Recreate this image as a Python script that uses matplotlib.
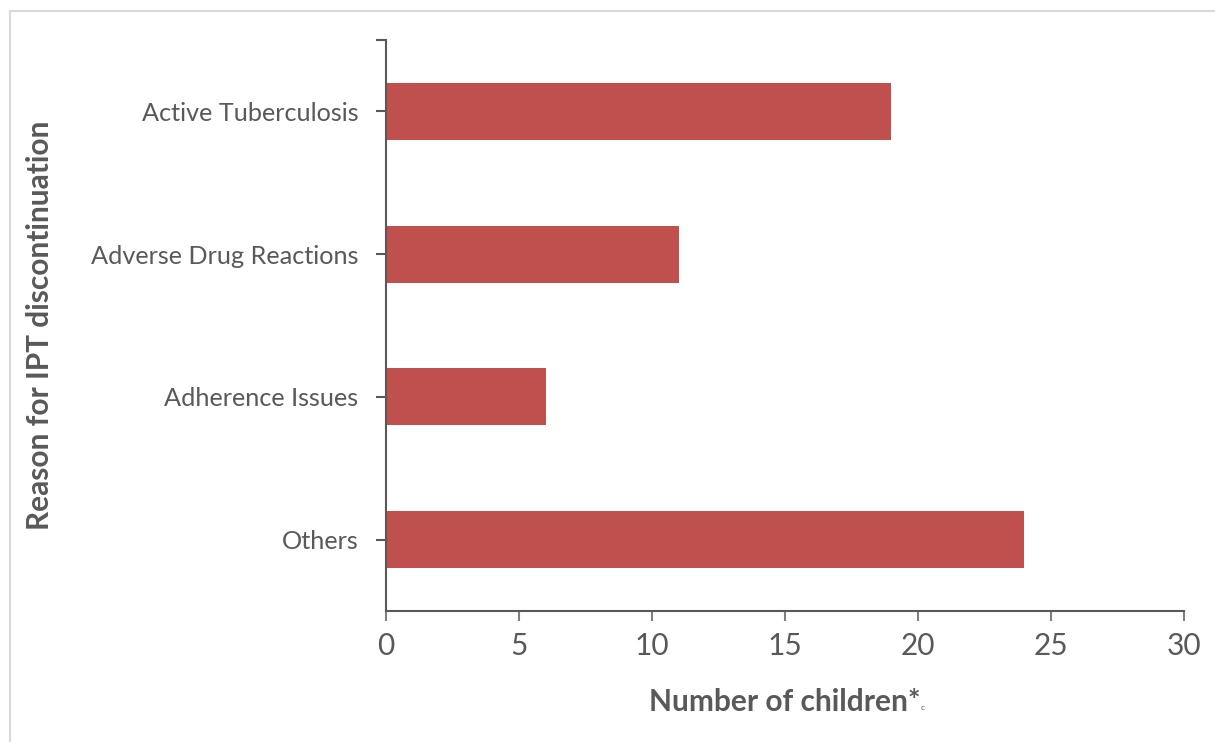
import matplotlib
matplotlib.use("Agg")
import matplotlib.pyplot as plt
from matplotlib.lines import Line2D

# data
reasons = ["Active Tuberculosis", "Adverse Drug Reactions", "Adherence Issues", "Others"]
children = [19, 11, 6, 24]
x_ticks = [0, 5, 10, 15, 20, 25, 30]

W, H = 1215, 742
txt = "#595959"
bar_col = "#C0504D"
plt.rcParams["font.family"] = ["Lato", "DejaVu Sans"]

fig = plt.figure(figsize=(W / 100, H / 100), dpi=100)
# axes box in pixels: left 386, right 1184, top 40, bottom 611
ax = fig.add_axes([386 / W, 1 - 611 / H, (1184 - 386) / W, (611 - 40) / H])

pos = list(range(len(reasons)))
ax.barh(pos, children, height=0.4, color=bar_col)
ax.set_ylim(len(reasons) - 0.5, -0.5)
ax.set_xlim(0, 30)

ax.set_yticks(pos)
ax.set_yticklabels(reasons, fontsize=18.2, color=txt)
ax.set_yticks([-0.5], minor=True)
ax.set_xticks(x_ticks)
ax.set_xticklabels([str(v) for v in x_ticks], fontsize=21.5, color=txt)

for s in ["top", "right"]:
    ax.spines[s].set_visible(False)
for s in ["left", "bottom"]:
    ax.spines[s].set_color(txt)
    ax.spines[s].set_linewidth(1.5)
ax.tick_params(axis="y", which="both", length=7, width=1.5, color=txt, pad=13)
ax.tick_params(axis="x", length=7, width=1.5, color="#808080", pad=8)

ax.set_xlabel("Number of children*", fontsize=21.5, fontweight="bold", color=txt, labelpad=20)
ax.set_ylabel("Reason for IPT discontinuation", fontsize=21.5, fontweight="bold", color=txt)
ax.yaxis.set_label_coords((54 - 386) / (1184 - 386), 0.5)
fig.text(921 / W, 1 - 710 / H, "c", fontsize=6, color=txt, ha="left", va="baseline")

# light frame around the chart area
fig.add_artist(Line2D([10 / W, 10 / W], [0, 1 - 11 / H], color="#D9D9D9", lw=1.5))
fig.add_artist(Line2D([10 / W, 1], [1 - 11 / H, 1 - 11 / H], color="#D9D9D9", lw=1.5))

fig.savefig("out.png", dpi=100)
